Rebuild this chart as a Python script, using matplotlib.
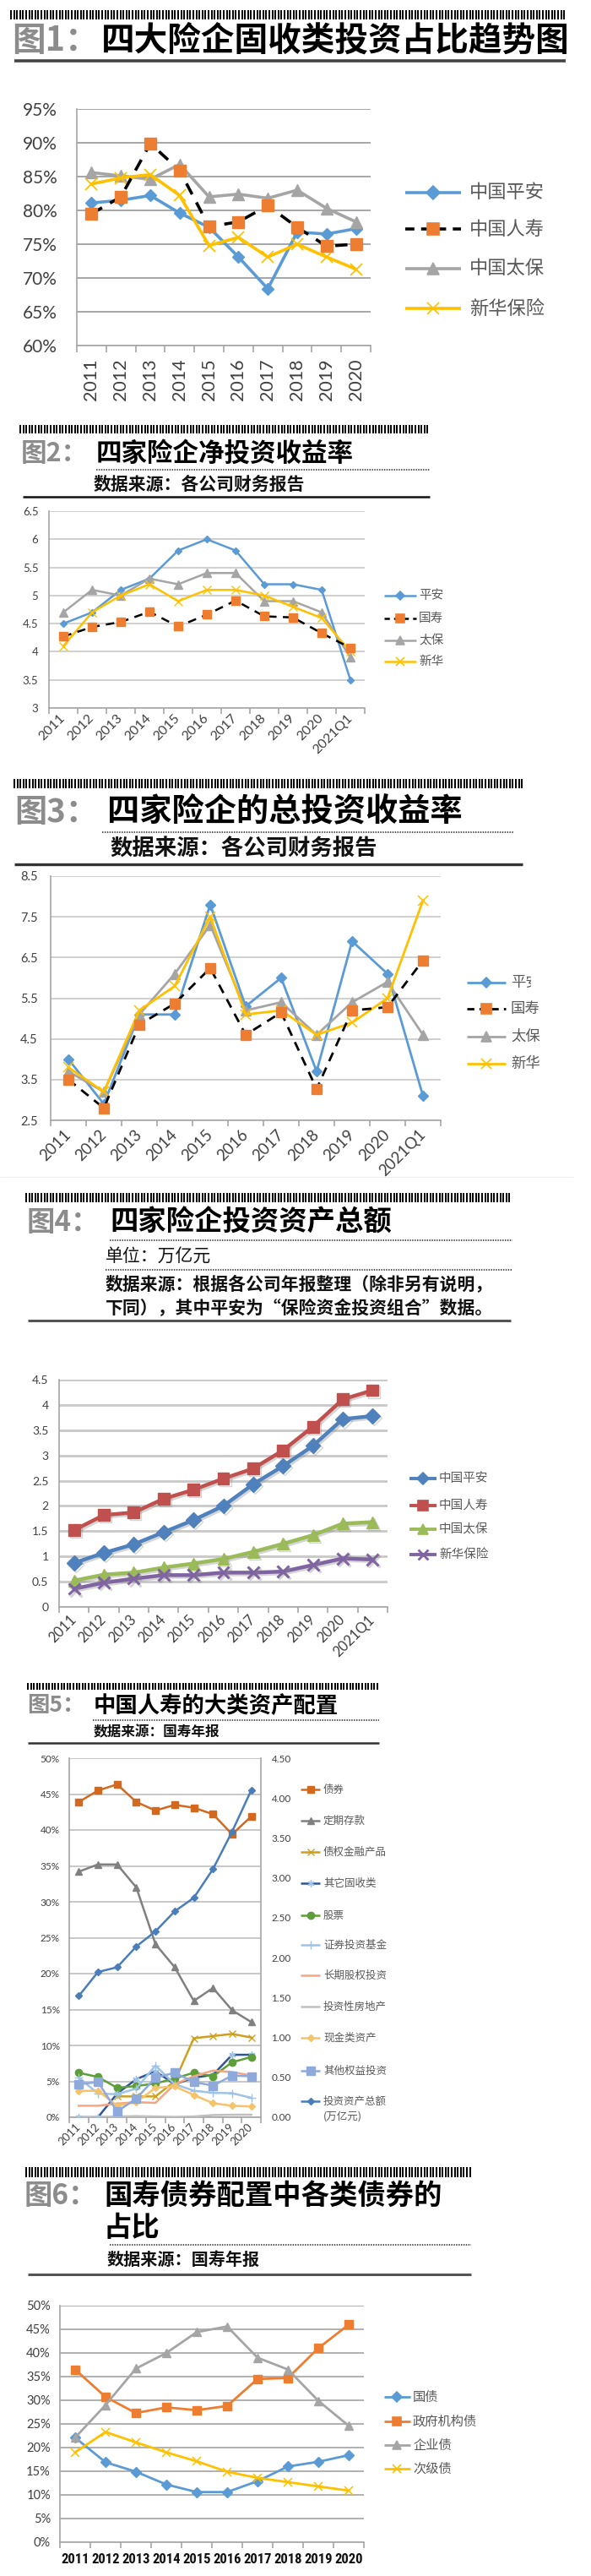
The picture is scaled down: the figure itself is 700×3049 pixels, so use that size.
import numpy as np
import matplotlib
matplotlib.use('Agg')
import matplotlib.pyplot as plt
from matplotlib import font_manager as fm
from matplotlib.patches import Rectangle
import matplotlib.patheffects as pe

# ---------------- data ----------------
years10 = ['2011', '2012', '2013', '2014', '2015', '2016', '2017', '2018', '2019', '2020']
years11 = years10 + ['2021Q1']

# fig1: fixed income share (%)
f1_pingan = [81.1, 81.5, 82.2, 79.6, 77.5, 73.1, 68.4, 76.8, 76.5, 77.3]
f1_renshou = [79.5, 82.0, 89.9, 85.9, 77.6, 78.3, 80.7, 77.5, 74.7, 75.0]
f1_taibao = [85.6, 85.1, 84.6, 86.8, 82.0, 82.4, 81.8, 83.0, 80.3, 78.3]
f1_xinhua = [83.9, 84.8, 85.3, 82.2, 74.8, 76.0, 73.1, 75.0, 73.1, 71.3]

# fig2: net investment yield
f2_pingan = [4.5, 4.7, 5.1, 5.3, 5.8, 6.0, 5.8, 5.2, 5.2, 5.1, 3.5]
f2_guoshou = [4.27, 4.44, 4.53, 4.71, 4.45, 4.66, 4.91, 4.63, 4.61, 4.33, 4.07]
f2_taibao = [4.7, 5.1, 5.0, 5.3, 5.2, 5.4, 5.4, 4.9, 4.9, 4.7, 3.9]
f2_xinhua = [4.1, 4.7, 5.0, 5.2, 4.9, 5.1, 5.1, 5.0, 4.8, 4.6, 4.0]

# fig3: total investment yield
f3_pingan = [4.0, 2.9, 5.1, 5.1, 7.8, 5.3, 6.0, 3.7, 6.9, 6.1, 3.1]
f3_guoshou = [3.5, 2.8, 4.85, 5.37, 6.24, 4.6, 5.15, 3.27, 5.2, 5.28, 6.43]
f3_taibao = [3.7, 3.2, 5.1, 6.1, 7.3, 5.2, 5.4, 4.6, 5.4, 5.9, 4.6]
f3_xinhua = [3.8, 3.2, 5.2, 5.8, 7.5, 5.1, 5.2, 4.6, 4.9, 5.5, 7.9]

# fig4: investment assets (trillion yuan)
f4_pingan = [0.87, 1.07, 1.24, 1.48, 1.72, 2.0, 2.43, 2.79, 3.19, 3.72, 3.78]
f4_renshou = [1.52, 1.82, 1.87, 2.14, 2.32, 2.54, 2.74, 3.10, 3.57, 4.11, 4.29]
f4_taibao = [0.52, 0.64, 0.68, 0.78, 0.86, 0.95, 1.09, 1.25, 1.42, 1.65, 1.68]
f4_xinhua = [0.36, 0.48, 0.56, 0.63, 0.63, 0.68, 0.68, 0.70, 0.83, 0.96, 0.94]

# fig5: China Life asset allocation (%), total on right axis
f5_bond = [43.9, 45.5, 46.35, 43.9, 42.7, 43.5, 43.1, 42.2, 39.4, 41.9]
f5_deposit = [34.2, 35.2, 35.2, 32.0, 24.1, 20.9, 16.2, 18.0, 14.9, 13.25]
f5_debtprod = [np.nan, np.nan, 2.9, 2.9, 2.9, 5.0, 11.0, 11.3, 11.6, 11.1]
f5_otherfi = [0.0, 0.0, 3.3, 5.3, 6.4, 4.6, 5.5, 5.9, 8.7, 8.7]
f5_stock = [6.2, 5.6, 4.1, 4.35, 4.7, 5.4, 6.2, 5.7, 7.65, 8.4]
f5_fund = [5.5, 3.3, 3.2, 4.0, 7.2, 4.6, 3.7, 3.4, 3.35, 2.7]
f5_ltequity = [1.6, 1.6, 1.9, 2.1, 2.0, 4.6, 5.7, 6.5, 6.3, 5.8]
f5_realestate = [0.0, 0.05, 0.1, 0.15, 0.1, 0.05, 0.1, 0.3, 0.35, 0.35]
f5_cash = [3.65, 3.7, 1.6, 2.1, 4.1, 4.3, 3.1, 1.95, 1.6, 1.5]
f5_otherequity = [4.6, 4.9, 0.8, 2.6, 5.5, 6.2, 4.9, 4.4, 5.8, 5.7]
f5_total = [1.52, 1.82, 1.88, 2.14, 2.33, 2.58, 2.75, 3.11, 3.58, 4.10]

# fig6: bond mix (%)
f6_gov = [22.1, 16.9, 14.9, 12.2, 10.6, 10.6, 12.9, 16.0, 17.0, 18.4]
f6_agency = [36.5, 30.7, 27.3, 28.5, 27.9, 28.8, 34.5, 34.7, 41.0, 46.0]
f6_corp = [22.1, 29.0, 36.7, 40.0, 44.4, 45.6, 39.0, 36.5, 29.9, 24.6]
f6_sub = [19.0, 23.3, 21.1, 19.0, 17.1, 14.9, 13.6, 12.7, 11.8, 10.9]

# ---------------- fonts ----------------
def has_font(name):
    try:
        fm.findfont(fm.FontProperties(family=name), fallback_to_default=False)
        return True
    except Exception:
        return False

CJK = ['Noto Sans CJK SC', 'DejaVu Sans']
NUM = 'Lato' if has_font('Lato') else 'DejaVu Sans'
NARROW = next((f for f in ['Liberation Sans Narrow', 'Roboto Condensed'] if has_font(f)), None)
plt.rcParams['font.family'] = [NUM, 'Noto Sans CJK SC', 'DejaVu Sans']
plt.rcParams['axes.unicode_minus'] = False

W, H = 700, 3049
fig = plt.figure(figsize=(W / 100, H / 100), dpi=100)
fig.patch.set_facecolor('white')


def px_axes(l, t, r, b):
    return fig.add_axes([l / W, 1 - b / H, (r - l) / W, (b - t) / H])


ov = fig.add_axes([0, 0, 1, 1])
ov.set_xlim(0, W)
ov.set_ylim(H, 0)
ov.axis('off')


def barcode(x0, x1, y0, y1):
    ov.vlines(np.arange(x0, x1, 3.6), y0, y1, color='black', lw=1.4)


def hline(x0, x1, y, lw=1.8, color='#333333', ls='-'):
    ov.plot([x0, x1], [y, y], color=color, lw=lw, ls=ls, solid_capstyle='butt')


def dotline(x0, x1, y):
    ov.plot([x0, x1], [y, y], color='#444444', lw=1.3, ls=(0, (0.8, 0.8)))


def title(y, prefix, text, fs, xp, xt):
    ov.text(xp, y, prefix, color='#8C8C8C', fontsize=fs, fontweight='heavy',
            family=CJK, va='center', ha='left')
    ov.text(xt, y, text, color='black', fontsize=fs, fontweight='heavy',
            family=CJK, va='center', ha='left')


def note(x, y, text, fs, weight='bold'):
    ov.text(x, y, text, color='#111111', fontsize=fs, fontweight=weight,
            family=CJK, va='center', ha='left')


def cat_axes(ax, labels, grid_color, lab_fs, ylab_fs, rot, pad, ypad, tick_len=5, lab_color='#404040'):
    n = len(labels)
    ax.set_xlim(-0.5, n - 0.5)
    ax.set_xticks(np.arange(n))
    ax.set_xticks(np.arange(n + 1) - 0.5, minor=True)
    ax.tick_params(axis='x', which='major', length=0, pad=pad, labelsize=lab_fs, labelcolor=lab_color)
    ax.tick_params(axis='x', which='minor', length=tick_len, color='#A6A6A6', width=1.2)
    ax.tick_params(axis='y', length=0, labelsize=ylab_fs, labelcolor=lab_color, pad=ypad)
    for s in ['top', 'right']:
        ax.spines[s].set_visible(False)
    for s in ['left', 'bottom']:
        ax.spines[s].set_color('#A6A6A6')
        ax.spines[s].set_linewidth(1.2)
    ax.yaxis.grid(True, color=grid_color, lw=1.4)
    ax.set_axisbelow(True)
    if rot == 90:
        ax.set_xticklabels(labels, rotation=90, ha='center', va='top')
    elif rot == 45:
        ax.set_xticklabels(labels, rotation=45, ha='right', va='center', rotation_mode='anchor')
    else:
        ax.set_xticklabels(labels)


def leg_axes(l, t, r, b):
    la = px_axes(l, t, r, b)
    la.set_xlim(l, r)
    la.set_ylim(b, t)
    la.axis('off')
    return la


def leg_entry(la, x0, x1, y, label, tx, fs, color, marker=None, ms=6, ls='-', lw=2,
              mfc=None, mec=None, tcolor='#595959', mew=1.2):
    la.plot([x0, x1], [y, y], color=color, ls=ls, lw=lw, solid_capstyle='butt')
    if marker:
        la.plot([(x0 + x1) / 2], [y], marker=marker, ms=ms, color=mfc or color,
                mec=mec or mfc or color, mew=mew, ls='none')
    la.text(tx, y, label, fontsize=fs, color=tcolor, family=CJK, va='center', ha='left', clip_on=True)


BLUE, ORANGE, GREY, YELLOW = '#5B9BD5', '#ED7D31', '#A5A5A5', '#FFC000'

# ================= Figure 1 =================
barcode(13, 670, 12, 23)
title(48, '图1：', '四大险企固收类投资占比趋势图', 28.5, 14, 120)
hline(17, 670, 72, lw=2.6, color='#444444')

ax = px_axes(91, 129, 439, 409)
x = np.arange(len(years10))
ax.plot(x, f1_pingan, color=BLUE, lw=2.6, marker='D', ms=7.5, zorder=3)
ax.plot(x, f1_renshou, color='black', lw=2.6, ls=(0, (4, 3)), marker='s', ms=9.5,
        mfc=ORANGE, mec=ORANGE, zorder=4)
ax.plot(x, f1_taibao, color=GREY, lw=2.6, marker='^', ms=9.5, zorder=3)
ax.plot(x, f1_xinhua, color=YELLOW, lw=2.6, marker='x', ms=9.5, mew=1.3, zorder=3)
ax.set_ylim(60, 95)
ax.set_yticks(np.arange(60, 96, 5))
ax.set_yticklabels(['%d%%' % v for v in range(60, 96, 5)])
cat_axes(ax, years10, '#A6A6A6', 15.5, 15, 90, 11, 17, tick_len=6)

la = leg_axes(470, 205, 700, 390)
leg_entry(la, 480, 546, 228, '中国平安', 556, 16, BLUE, 'D', 8, lw=2.6)
leg_entry(la, 480, 546, 271, '中国人寿', 556, 16, 'black', 's', 10, ls=(0, (3, 2.2)), lw=2.6, mfc=ORANGE)
leg_entry(la, 480, 546, 318, '中国太保', 556, 16, GREY, '^', 10, lw=2.6)
leg_entry(la, 480, 546, 365, '新华保险', 556, 16, YELLOW, 'x', 10, lw=2.6)

# ================= Figure 2 =================
barcode(24, 509, 503, 513)
title(537, '图2：', '四家险企净投资收益率', 22, 25, 114)
dotline(114, 509, 556)
note(111, 573, '数据来源：各公司财务报告', 15)
hline(27, 509, 588, lw=1.8, color='#111111')

ax = px_axes(58, 605, 432, 838)
x = np.arange(len(years11))
ax.plot(x, f2_pingan, color=BLUE, lw=1.8, marker='D', ms=4.5, zorder=3)
ax.plot(x, f2_guoshou, color='black', lw=1.8, ls=(0, (4, 3)), marker='s', ms=7,
        mfc=ORANGE, mec=ORANGE, zorder=4)
ax.plot(x, f2_taibao, color=GREY, lw=1.8, marker='^', ms=7, zorder=3)
ax.plot(x, f2_xinhua, color=YELLOW, lw=1.8, marker='x', ms=7, mew=1, zorder=3)
ax.set_ylim(3, 6.5)
ax.set_yticks(np.arange(3, 6.51, 0.5))
ax.set_yticklabels(['3', '3.5', '4', '4.5', '5', '5.5', '6', '6.5'])
cat_axes(ax, years11, '#D0D0D0', 11.5, 9.5, 45, 7, 9)

la = leg_axes(448, 690, 560, 800)
leg_entry(la, 455, 493, 705, '平安', 496, 10.5, BLUE, 'D', 5, lw=1.8)
leg_entry(la, 455, 493, 732, '国寿', 496, 10.5, 'black', 's', 7, ls=(0, (2.5, 2)), lw=1.8, mfc=ORANGE)
leg_entry(la, 455, 493, 758, '太保', 496, 10.5, GREY, '^', 7, lw=1.8)
leg_entry(la, 455, 493, 783, '新华', 496, 10.5, YELLOW, 'x', 7, lw=1.8)

# ================= Figure 3 =================
barcode(17, 619, 922, 933)
title(961, '图3：', '四家险企的总投资收益率', 27.5, 17, 127)
dotline(121, 609, 985)
note(130, 1005, '数据来源：各公司财务报告', 19)
hline(17, 619, 1023, lw=2.4, color='#333333')

ax = px_axes(60, 1037, 522, 1326)
x = np.arange(len(years11))
ax.plot(x, f3_pingan, color=BLUE, lw=2, marker='D', ms=6, zorder=3)
ax.plot(x, f3_guoshou, color='black', lw=2, ls=(0, (4, 3)), marker='s', ms=8,
        mfc=ORANGE, mec=ORANGE, zorder=4)
ax.plot(x, f3_taibao, color=GREY, lw=2, marker='^', ms=8, zorder=3)
ax.plot(x, f3_xinhua, color=YELLOW, lw=2, marker='x', ms=8, mew=1.1, zorder=3)
ax.set_ylim(2.5, 8.5)
ax.set_yticks(np.arange(2.5, 8.51, 1))
cat_axes(ax, years11, '#D0D0D0', 13.5, 10.5, 45, 10, 11)

la = leg_axes(545, 1145, 680, 1275)
leg_entry(la, 553, 599, 1163, '平安', 605, 12.5, BLUE, 'D', 6, lw=2)
leg_entry(la, 553, 599, 1194, '国寿', 605, 12.5, 'black', 's', 8, ls=(0, (3, 2.2)), lw=2, mfc=ORANGE)
leg_entry(la, 553, 599, 1227, '太保', 605, 12.5, GREY, '^', 8, lw=2)
leg_entry(la, 553, 599, 1259, '新华', 605, 12.5, YELLOW, 'x', 8, lw=2)
la.add_patch(Rectangle((629, 1148), 30, 28, color='white', zorder=10))
hline(0, 679, 1393, lw=0.8, color='#EEEEEE')

# ================= Figure 4 =================
barcode(31, 607, 1412, 1423)
title(1447, '图4：', '四家险企投资资产总额', 24, 32, 130)
dotline(130, 607, 1468)
note(125, 1487, '单位：万亿元', 15, weight='medium')
dotline(125, 607, 1503)
note(125, 1521, '数据来源：根据各公司年报整理（除非另有说明，', 15)
note(125, 1548, '下同），其中平安为“保险资金投资组合”数据。', 15)
hline(33, 605, 1563, lw=2.2, color='#555555')

ax = px_axes(70, 1633, 459, 1902)
x = np.arange(len(years11))
shadow = [pe.SimpleLineShadow(offset=(1.5, -1.5), shadow_color='#888888', alpha=0.35), pe.Normal()]
ax.plot(x, f4_pingan, color='#4F81BD', lw=3.2, marker='D', ms=9, path_effects=shadow, zorder=3)
ax.plot(x, f4_renshou, color='#C0504D', lw=3.2, marker='s', ms=10, path_effects=shadow, zorder=3)
ax.plot(x, f4_taibao, color='#9BBB59', lw=3.2, marker='^', ms=10, path_effects=shadow, zorder=3)
ax.plot(x, f4_xinhua, color='#8064A2', lw=3.2, marker='x', ms=10, mew=2.2, path_effects=shadow, zorder=3)
ax.set_ylim(0, 4.5)
ax.set_yticks(np.arange(0, 4.51, 0.5))
ax.set_yticklabels(['0', '0.5', '1', '1.5', '2', '2.5', '3', '3.5', '4', '4.5'])
cat_axes(ax, years11, '#C8C8C8', 12, 10, 45, 9, 9)
ax.yaxis.grid(True, color='#C8C8C8', lw=2)

la = leg_axes(478, 1735, 600, 1855)
leg_entry(la, 485, 517, 1750, '中国平安', 520, 10.5, '#4F81BD', 'D', 7, lw=2.8)
leg_entry(la, 485, 517, 1782, '中国人寿', 520, 10.5, '#C0504D', 's', 8, lw=2.8)
leg_entry(la, 485, 517, 1810, '中国太保', 520, 10.5, '#9BBB59', '^', 8, lw=2.8)
leg_entry(la, 485, 517, 1840, '新华保险', 520, 10.5, '#8064A2', 'x', 8, lw=2.8, mew=2)

# ================= Figure 5 =================
barcode(33, 449, 1992, 2000)
title(2019, '图5：', '中国人寿的大类资产配置', 19, 32, 111)
dotline(110, 449, 2036)
note(111, 2050, '数据来源：国寿年报', 12)
hline(33, 449, 2063, lw=1.8, color='#333333')

ax = px_axes(82, 2081, 309, 2506)
x = np.arange(len(years10))
ax.plot(x, f5_bond, color='#D2691E', lw=1.8, marker='s', ms=6, zorder=3)
ax.plot(x, f5_deposit, color='#808080', lw=1.8, marker='^', ms=6, zorder=3)
ax.plot(x, f5_debtprod, color='#CFA01E', lw=1.8, marker='x', ms=6, mew=1, zorder=3)
ax.plot(x, f5_otherfi, color='#2F5597', lw=1.8, marker=(6, 2, 0), ms=6, mec='#9DC3E6', zorder=3)
ax.plot(x, f5_stock, color='#5E9E3A', lw=1.8, marker='o', ms=6, zorder=3)
ax.plot(x, f5_fund, color='#9DC3E6', lw=1.8, marker='+', ms=7, zorder=3)
ax.plot(x, f5_ltequity, color='#F4A582', lw=1.8, zorder=3)
ax.plot(x, f5_realestate, color='#BFBFBF', lw=1.8, zorder=3)
ax.plot(x, f5_cash, color='#F6C36B', lw=1.8, marker='D', ms=4, zorder=3)
ax.plot(x, f5_otherequity, color='#8EA9DB', lw=1.8, marker='s', ms=6.5, zorder=3)
ax.set_ylim(0, 50)
ax.set_yticks(np.arange(0, 51, 5))
ax.set_yticklabels(['%d%%' % v for v in range(0, 51, 5)])
cat_axes(ax, years10, '#C8C8C8', 9.5, 8.5, 45, 7, 8)
axr = ax.twinx()
axr.plot(x, f5_total, color='#4A7EBB', lw=1.8, marker='D', ms=4, zorder=3)
axr.set_ylim(0, 4.5)
axr.set_yticks(np.arange(0, 4.51, 0.5))
axr.set_yticklabels(['%.2f' % v for v in np.arange(0, 4.51, 0.5)])
axr.tick_params(axis='y', length=0, labelsize=8.5, labelcolor='#404040', pad=9)
for s in ['top', 'left', 'bottom']:
    axr.spines[s].set_visible(False)
axr.spines['right'].set_color('#A6A6A6')
axr.spines['right'].set_linewidth(1.2)

la = leg_axes(350, 2100, 458, 2515)
entries5 = [
    ('债券', '#D2691E', 's', 6), ('定期存款', '#808080', '^', 6),
    ('债权金融产品', '#CFA01E', 'x', 6), ('其它固收类', '#2F5597', (6, 2, 0), 6),
    ('股票', '#5E9E3A', 'o', 6), ('证券投资基金', '#9DC3E6', '+', 7),
    ('长期股权投资', '#F4A582', None, 6), ('投资性房地产', '#BFBFBF', None, 6),
    ('现金类资产', '#F6C36B', 'D', 4), ('其他权益投资', '#8EA9DB', 's', 6.5),
    ('投资资产总额', '#4A7EBB', 'D', 4),
]
ys5 = [2118, 2155, 2192, 2229, 2267, 2302, 2338, 2375, 2412, 2451, 2487]
for (lab, col, mk, ms), yy in zip(entries5, ys5):
    mec = '#9DC3E6' if lab == '其它固收类' else None
    leg_entry(la, 356, 379, yy, lab, 383, 9, col, mk, ms, lw=1.8, mec=mec, mew=1)
la.text(383, 2505, '(万亿元)', fontsize=9, color='#595959', family=CJK, va='center', ha='left', clip_on=True)

# ================= Figure 6 =================
barcode(31, 558, 2565, 2577)
title(2599, '图6：', '国寿债券配置中各类债券的', 24, 29, 123)
ov.text(123, 2637, '占比', color='black', fontsize=24, fontweight='heavy', family=CJK, va='center', ha='left')
dotline(130, 558, 2657)
note(127, 2674, '数据来源：国寿年报', 14.5)
hline(33, 558, 2692, lw=2.2, color='#555555')

ax = px_axes(71, 2729, 431, 3009)
x = np.arange(len(years10))
ax.plot(x, f6_gov, color=BLUE, lw=2, marker='D', ms=6, zorder=3)
ax.plot(x, f6_agency, color=ORANGE, lw=2, marker='s', ms=7.5, zorder=3)
ax.plot(x, f6_corp, color=GREY, lw=2, marker='^', ms=7.5, zorder=3)
ax.plot(x, f6_sub, color=YELLOW, lw=2, marker='x', ms=7.5, mew=1.1, zorder=3)
ax.set_ylim(0, 50)
ax.set_yticks(np.arange(0, 51, 5))
ax.set_yticklabels(['%d%%' % v for v in range(0, 51, 5)])
cat_axes(ax, years10, '#B0B0B0', 10, 10.5, 0, 9, 8)
for t in ax.get_xticklabels():
    if NARROW:
        t.set_family([NARROW, 'DejaVu Sans'])
        t.set_fontsize(12)
    else:
        t.set_family(['Roboto', 'DejaVu Sans'])
        t.set_fontsize(9.5)
    t.set_fontweight('bold')
    t.set_color('#111111')

la = leg_axes(448, 2825, 590, 2935)
leg_entry(la, 455, 486, 2837, '国债', 489, 11, BLUE, 'D', 6)
leg_entry(la, 455, 486, 2866, '政府机构债', 489, 11, ORANGE, 's', 7)
leg_entry(la, 455, 486, 2894, '企业债', 489, 11, GREY, '^', 7)
leg_entry(la, 455, 486, 2922, '次级债', 489, 11, YELLOW, 'x', 7)

fig.savefig('out.png', dpi=100, facecolor='white')
